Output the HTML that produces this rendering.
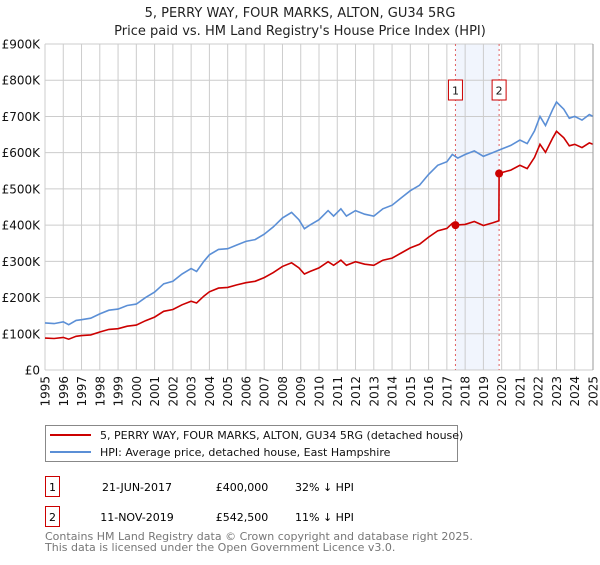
<!DOCTYPE html>
<html><head><meta charset="utf-8"><style>
body{margin:0;background:#fff;font-family:"Liberation Sans","DejaVu Sans",sans-serif}
svg text{font-family:"DejaVu Sans","Liberation Sans",sans-serif}
</style></head><body>
<svg id="c" width="600" height="560" viewBox="0 0 600 560">
<text x="300" y="17" text-anchor="middle" font-size="13" fill="#222">5, PERRY WAY, FOUR MARKS, ALTON, GU34 5RG</text>
<text x="300" y="35" text-anchor="middle" font-size="13" fill="#222">Price paid vs. HM Land Registry's House Price Index (HPI)</text>
<g id="grid"></g><g id="marks"></g><g id="axes"></g>
<g>
<rect x="45.5" y="425.5" width="412" height="36" fill="#fff" stroke="#888"/>
<line x1="50" y1="435" x2="91" y2="435" stroke="#cc0000" stroke-width="2"/>
<text x="100" y="439" font-size="11" fill="#111">5, PERRY WAY, FOUR MARKS, ALTON, GU34 5RG (detached house)</text>
<line x1="50" y1="452" x2="91" y2="452" stroke="#5b8fd6" stroke-width="2"/>
<text x="100" y="456" font-size="11" fill="#111">HPI: Average price, detached house, East Hampshire</text>
</g>
<g>
<rect x="45.5" y="476.5" width="14" height="20" fill="#fff" stroke="#cc0000"/>
<text x="52.5" y="491" text-anchor="middle" font-size="11">1</text>
<text x="137" y="491" text-anchor="middle" font-size="11">21-JUN-2017</text>
<text x="242" y="491" text-anchor="middle" font-size="11">£400,000</text>
<text x="295" y="491" font-size="11">32% ↓ HPI</text>
</g>
<g>
<rect x="45.5" y="506.5" width="14" height="20" fill="#fff" stroke="#cc0000"/>
<text x="52.5" y="521" text-anchor="middle" font-size="11">2</text>
<text x="137" y="521" text-anchor="middle" font-size="11">11-NOV-2019</text>
<text x="242" y="521" text-anchor="middle" font-size="11">£542,500</text>
<text x="295" y="521" font-size="11">11% ↓ HPI</text>
</g>
<text x="45" y="540" font-size="11" fill="#777">Contains HM Land Registry data © Crown copyright and database right 2025.</text>
<text x="45" y="551" font-size="11" fill="#777">This data is licensed under the Open Government Licence v3.0.</text>
</svg>
<script>
const hpiYears=[1995,1995.5,1996,1996.3,1996.7,1997,1997.5,1998,1998.5,1999,1999.5,2000,2000.5,2001,2001.5,2002,2002.5,2003,2003.3,2003.7,2004,2004.5,2005,2005.5,2006,2006.5,2007,2007.5,2008,2008.5,2008.9,2009.2,2009.5,2010,2010.5,2010.8,2011.2,2011.5,2012,2012.5,2013,2013.5,2014,2014.5,2015,2015.5,2016,2016.5,2017,2017.3,2017.6,2018,2018.5,2019,2019.5,2020,2020.5,2021,2021.4,2021.8,2022.1,2022.4,2022.8,2023,2023.4,2023.7,2024,2024.4,2024.8,2025];
const hpiValues=[130,128,133,125,137,139,143,155,165,168,178,182,200,215,238,245,265,280,272,300,318,333,335,345,355,360,375,395,420,435,415,390,400,415,440,425,445,425,440,430,425,445,455,475,495,510,540,565,575,595,585,595,605,590,600,610,620,635,625,660,700,675,720,740,720,695,700,690,705,700];
const propYears=[1995,1995.5,1996,1996.3,1996.7,1997,1997.5,1998,1998.5,1999,1999.5,2000,2000.5,2001,2001.5,2002,2002.5,2003,2003.3,2003.7,2004,2004.5,2005,2005.5,2006,2006.5,2007,2007.5,2008,2008.5,2008.9,2009.2,2009.5,2010,2010.5,2010.8,2011.2,2011.5,2012,2012.5,2013,2013.5,2014,2014.5,2015,2015.5,2016,2016.5,2017,2017.3,2017.47,2018,2018.5,2019,2019.5,2019.85,2019.86,2020,2020.5,2021,2021.4,2021.8,2022.1,2022.4,2022.8,2023,2023.4,2023.7,2024,2024.4,2024.8,2025];
const propValues=[88,87,90,85,93,95,97,105,112,114,121,124,136,146,162,167,180,190,185,204,216,226,228,235,241,245,255,269,286,296,282,265,272,282,299,289,303,289,299,292,289,303,309,323,337,347,367,384,391,405,400,402,410,399,406,412,542.5,545,552,565,556,587,623,601,641,659,641,619,623,614,627,623];
const saleYears=[2017.47,2019.86];
const saleValues=[400,542.5];
const saleLabels=["1","2"];
const yTicks=[0,100,200,300,400,500,600,700,800,900];
const yTickLabels=["£0","£100K","£200K","£300K","£400K","£500K","£600K","£700K","£800K","£900K"];
const xTicks=[1995,1996,1997,1998,1999,2000,2001,2002,2003,2004,2005,2006,2007,2008,2009,2010,2011,2012,2013,2014,2015,2016,2017,2018,2019,2020,2021,2022,2023,2024,2025];

const X0=45,X1=593,Y0=370,Y1=44;
const xs=y=>X0+(y-1995)/30*(X1-X0);
const ys=v=>Y0-v/900*(Y0-Y1);
const NS="http://www.w3.org/2000/svg";
function mk(tag,attrs,parent){const e=document.createElementNS(NS,tag);for(const k in attrs)e.setAttribute(k,attrs[k]);parent.appendChild(e);return e;}
const grid=document.getElementById('grid'),marks=document.getElementById('marks'),axes=document.getElementById('axes');
const shade=mk('rect',{x:xs(saleYears[0]),y:Y1,width:xs(saleYears[1])-xs(saleYears[0]),height:Y0-Y1,fill:'#f1f5fd'},grid);


yTicks.forEach((t,i)=>{
  const l=mk('line',{x1:X0,x2:X1,y1:ys(t),y2:ys(t),stroke:'#cccccc'},grid);
  
  
  const tx=mk('text',{x:40,y:ys(t)+4.5,'text-anchor':'end','font-size':'12',fill:'#111'},axes);
  tx.textContent=yTickLabels[i];
  
  
});
xTicks.forEach(t=>{
  const l=mk('line',{x1:xs(t),x2:xs(t),y1:Y1,y2:Y0,stroke:'#cccccc'},grid);
  
  
  const tx=mk('text',{x:0,y:0,'text-anchor':'end','font-size':'12',fill:'#111',transform:`translate(${xs(t)+4.5},376) rotate(-90)`},axes);
  tx.textContent=t;
  
  
});
saleYears.forEach((s,i)=>{
  const l=mk('line',{x1:xs(s),x2:xs(s),y1:Y1,y2:Y0,stroke:'#e06060','stroke-dasharray':'2,3'},grid);
  
  
  const b=mk('rect',{x:xs(s)-7,y:80,width:14,height:20,fill:'#fff',stroke:'#cc0000'},marks);
  
  
  const t=mk('text',{x:xs(s),y:94.5,'text-anchor':'middle','font-size':'11',fill:'#111'},marks);
  t.textContent=saleLabels[i];
});
function path(xa,va){return xa.map((y,i)=>(i?'L':'M')+xs(y).toFixed(1)+','+ys(va[i]).toFixed(1)).join('');}
const h=mk('path',{d:path(hpiYears,hpiValues),fill:'none',stroke:'#5b8fd6','stroke-width':'1.6'},marks);


const p=mk('path',{d:path(propYears,propValues),fill:'none',stroke:'#cc0000','stroke-width':'1.6'},marks);


saleYears.forEach((s,i)=>{
  const c=mk('circle',{cx:xs(s),cy:ys(saleValues[i]),r:4,fill:'#cc0000'},marks);
  
  
});
const ax=mk('line',{x1:X1,x2:X1,y1:Y1,y2:Y0,stroke:'#999'},axes);


</script>
</body></html>
